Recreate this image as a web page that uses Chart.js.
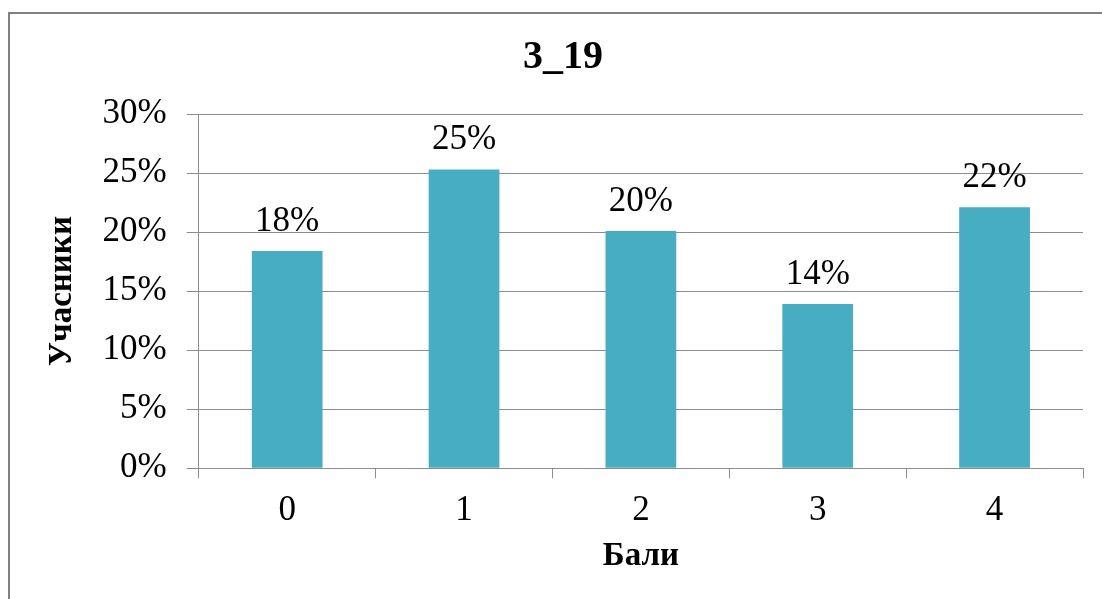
<!DOCTYPE html>
<html>
<head>
<meta charset="utf-8">
<script src="https://cdn.jsdelivr.net/npm/chart.js@4"></script>
<style>
  html, body { margin: 0; padding: 0; background: #fff; }
  #wrap { position: relative; width: 1102px; height: 599px; }
  #frame { position: absolute; left: 8px; top: 12px; width: 1110px; height: 620px;
           border-left: 2px solid #808080; border-top: 2px solid #808080; box-sizing: border-box; }
  canvas { position: absolute; left: 0; top: 0; }
</style>
</head>
<body>
<div id="wrap">
  <div id="frame"></div>
  <canvas id="barchart" width="1102" height="599"></canvas>
</div>
<script>
const categories = ['0', '1', '2', '3', '4'];
const shares = [18.4, 25.3, 20.1, 13.9, 22.1];
const valueLabels = ['18%', '25%', '20%', '14%', '22%'];
const chartTitle = '3_19';
const xTitle = 'Бали';
const yTitle = 'Учасники';

const serif = '"Liberation Serif", "Times New Roman", serif';
const gridGray = '#8c8c8c';

/* labels above the bars */
const barLabels = {
  id: 'barLabels',
  afterDatasetsDraw(chart) {
    const c = chart.ctx;
    const meta = chart.getDatasetMeta(0);
    c.save();
    c.font = '35px ' + serif;
    c.fillStyle = '#000';
    c.textAlign = 'center';
    c.textBaseline = 'alphabetic';
    meta.data.forEach((bar, i) => {
      c.fillText(valueLabels[i], bar.x, bar.y - 20);
    });
    c.restore();
  }
};

const ctx = document.getElementById('barchart').getContext('2d');

new Chart(ctx, {
  type: 'bar',
  data: {
    labels: categories,
    datasets: [{
      data: shares,
      backgroundColor: '#46adc3',
      barPercentage: 0.4,
      categoryPercentage: 1.0
    }]
  },
  plugins: [barLabels],
  options: {
    responsive: false,
    animation: false,
    layout: { padding: { top: 34, right: 19, left: 43, bottom: 30 } },
    plugins: {
      legend: { display: false },
      tooltip: { enabled: false },
      title: {
        display: true,
        text: chartTitle,
        color: '#000',
        font: { family: serif, size: 40, weight: 'bold' },
        padding: { top: 0, bottom: 32 }
      }
    },
    scales: {
      x: {
        offset: true,
        grid: { offset: true, drawOnChartArea: false, color: gridGray, tickLength: 10 },
        border: { color: gridGray },
        ticks: { color: '#000', font: { family: serif, size: 35 }, padding: 12 },
        title: {
          display: true, text: xTitle, color: '#000',
          font: { family: serif, size: 33, weight: 'bold', lineHeight: 0.75 },
          padding: { top: 0, bottom: 0 }
        }
      },
      y: {
        min: 0,
        max: 30,
        ticks: {
          stepSize: 5,
          color: '#000',
          font: { family: serif, size: 35 },
          padding: 20,
          callback: v => v + '%'
        },
        grid: { color: gridGray, tickLength: 12 },
        border: { color: gridGray },
        title: {
          display: true, text: yTitle, color: '#000',
          font: { family: serif, size: 33, weight: 'bold' },
          padding: { top: 0, bottom: 0 }
        }
      }
    }
  }
});
</script>
</body>
</html>
